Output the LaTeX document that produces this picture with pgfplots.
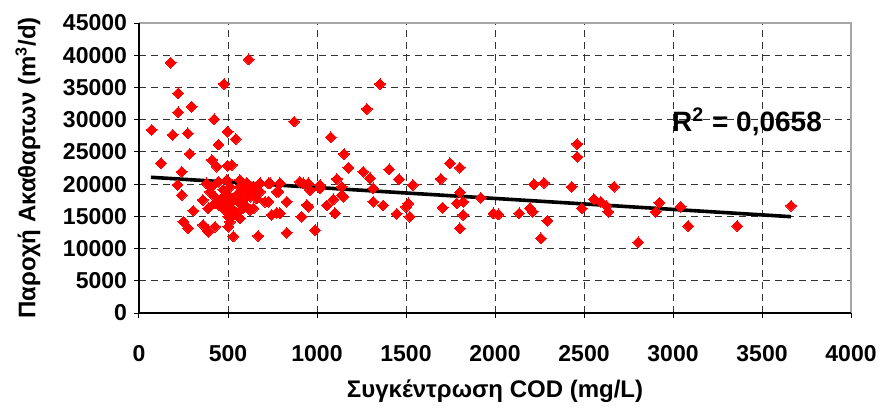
\documentclass[border=0pt]{standalone}
\usepackage{fontspec}
\setmainfont{Liberation Sans}
\usepackage{pgfplots}
\usepackage{pgfplotstable}
\pgfplotsset{compat=1.18}
\definecolor{xlred}{RGB}{255,0,0}
\pgfplotstableread{
x y
71 28400
124 23230
178 38850
189 27630
221 34100
221 31150
217 19870
240 21930
240 18310
249 14170
274 27890
277 13150
285 24700
296 32020
305 15880
358 17540
361 13660
380 20130
389 16250
389 12620
399 18830
408 19600
410 23750
423 30060
427 13390
427 18050
427 17020
437 22710
446 26130
446 20380
446 16760
465 17800
474 19090
478 35540
483 15990
493 20640
493 17020
498 22860
498 28140
502 18310
502 14950
502 13390
511 14170
511 19600
521 16250
530 11900
521 22970
530 17540
530 15210
543 27000
549 15470
558 18580
567 20640
567 19600
567 17020
567 14700
586 17540
586 16250
605 20220
605 18830
605 16500
614 19600
616 39370
624 18050
624 15990
643 19600
643 16250
652 18580
661 17800
670 18830
670 11950
680 20130
680 18830
708 17270
727 20130
727 17270
736 20130
745 15210
774 18830
774 15570
783 18830
792 20130
792 15470
830 17270
830 12460
871 29700
904 20380
914 14950
923 20130
942 16760
951 20130
951 16500
961 19090
989 12880
1017 19870
1017 19350
1055 16700
1077 27270
1092 17650
1101 15470
1111 20800
1139 18310
1139 19600
1148 18050
1152 24680
1176 22550
1260 21930
1279 31660
1298 20900
1316 19350
1316 17270
1354 35540
1372 16700
1406 22300
1448 15420
1461 20750
1500 16500
1513 17020
1522 14950
1538 19870
1695 20800
1706 16350
1747 23230
1785 17020
1803 22550
1803 18730
1803 13140
1822 17270
1822 15210
1920 17900
1991 15470
2019 15320
2136 15470
2197 16250
2212 15720
2219 19970
2258 11590
2275 20220
2294 14330
2431 19600
2462 26230
2462 24260
2487 16250
2556 17650
2594 17270
2627 16600
2636 15720
2669 19600
2805 10970
2903 15720
2923 17120
3043 16500
3086 13500
3361 13500
3663 16650
}\cod
\pgfplotstableread{
x y
67 21060
3663 14950
}\trend
\begin{document}
\begin{tikzpicture}[x=1pt,y=1pt]
\path[use as bounding box] (-69.5,-47.5) rectangle (371,156.5);
\begin{axis}[
  at={(0,0)}, anchor=south west,
  scale only axis, width=356pt, height=145pt,
  xmin=0, xmax=4000, ymin=0, ymax=45000,
  xtick={0,500,...,4000}, ytick={0,5000,...,45000},
  xtick pos=bottom, ytick pos=left,
  axis line style={draw=none},
  tick align=outside, major tick length=2.5pt,
  tick style={black, line width=0.5pt},
  grid=major,
  major grid style={black!80, line width=0.5pt, dash pattern=on 3.5pt off 2.5pt},
  scaled ticks=false,
  /pgf/number format/assume math mode=true,
  /pgf/number format/1000 sep={},
  tick label style={font=\bfseries\fontsize{11.5}{13}\selectfont},
  xticklabel style={yshift=-10pt},
  clip=false,
]
\addplot[only marks, color=xlred, mark=square*, mark size=1.9pt,
  mark options={rotate=45, fill=xlred, draw=xlred, line width=0pt}] table[x=x,y=y] {\cod};
\addplot[black, line width=1.8pt, no marks] table[x=x,y=y] {\trend};
\draw[gray!70, line width=0.8pt] (rel axis cs:0,1) -- (rel axis cs:1,1) -- (rel axis cs:1,0);
\draw[black, line width=0.7pt] (rel axis cs:0,1) -- (rel axis cs:0,0) -- (rel axis cs:1,0);
\node[font=\bfseries\fontsize{14}{16}\selectfont] at (axis cs:3416,29640) {R\textsuperscript{2} = 0,0658};
\end{axis}
\node[rotate=90, font=\bfseries\fontsize{12}{14}\selectfont] at (-55.5,72.5) {Παροχή Ακαθαρτων (m\textsuperscript{3}/d)};
\node[font=\bfseries\fontsize{12}{14}\selectfont] at (178,-39) {Συγκέντρωση COD (mg/L)};
\end{tikzpicture}
\end{document}
